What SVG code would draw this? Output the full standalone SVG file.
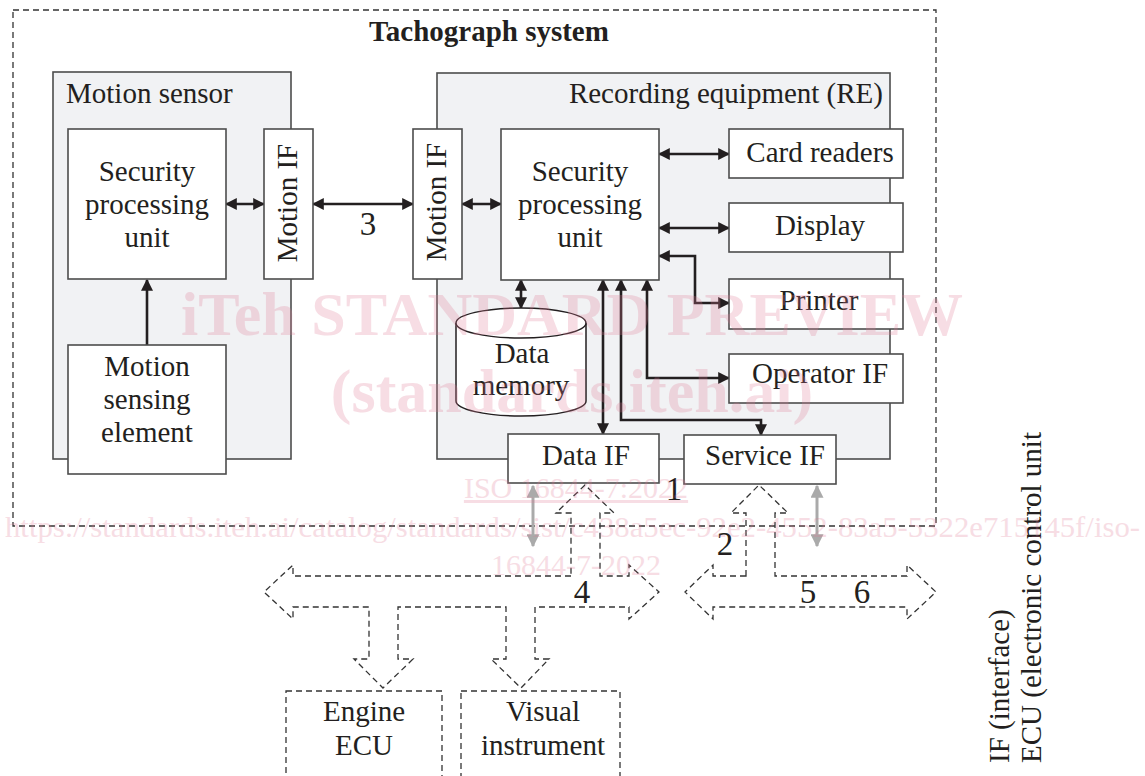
<svg xmlns="http://www.w3.org/2000/svg" width="1145" height="776" viewBox="0 0 1145 776">
<style>
text{font-family:"Liberation Serif","Times New Roman",serif;fill:#231f20;font-size:29px}
.c{text-anchor:middle}
.num{font-size:33px;text-anchor:middle}
.box{fill:#fff;stroke:#4d4d4d;stroke-width:1.6}
.grp{fill:#f1f2f4;stroke:#4d4d4d;stroke-width:1.6}
.dash{fill:none;stroke:#333;stroke-width:1.3;stroke-dasharray:6 4}
.dbox{fill:#fff;stroke:#333;stroke-width:1.3;stroke-dasharray:6 4}
.ar{fill:none;stroke:#231f20;stroke-width:2.6;marker-start:url(#ah);marker-end:url(#ah)}
.ar1{fill:none;stroke:#231f20;stroke-width:2.6;marker-end:url(#ah)}
.gar{fill:none;stroke:#aaa;stroke-width:3;marker-start:url(#gh);marker-end:url(#gh)}
.wm{fill:#e07a95;opacity:0.25}
</style>
<defs>
<marker id="ah" viewBox="0 0 10 10" refX="9" refY="5" markerWidth="12" markerHeight="12" markerUnits="userSpaceOnUse" orient="auto-start-reverse"><path d="M0,0 L10,5 L0,10 z" fill="#231f20"/></marker>
<marker id="gh" viewBox="0 0 10 10" refX="9" refY="5" markerWidth="13" markerHeight="13" markerUnits="userSpaceOnUse" orient="auto-start-reverse"><path d="M0,0 L10,5 L0,10 z" fill="#aaa"/></marker>
</defs>

<g id="tachograph-system">
<rect x="13" y="10" width="923" height="516" class="dash"/>
<text x="489" y="41" class="c" style="font-weight:bold;font-size:29px">Tachograph system</text>
</g>

<g id="motion-sensor">
<rect x="53" y="72" width="238" height="387" class="grp"/>
<text x="66" y="103">Motion sensor</text>
</g>

<g id="recording-equipment">
<rect x="437" y="73" width="453" height="386" class="grp"/>
<text x="883" y="103" style="text-anchor:end">Recording equipment (RE)</text>
</g>

<g id="connectors">
<line x1="226" y1="204" x2="264" y2="204" class="ar"/>
<line x1="147" y1="345" x2="147" y2="280" class="ar1"/>
<line x1="313" y1="204" x2="413" y2="204" class="ar"/>
<line x1="462" y1="204" x2="501" y2="204" class="ar"/>
<line x1="659" y1="154" x2="729" y2="154" class="ar"/>
<line x1="659" y1="228" x2="729" y2="228" class="ar"/>
<path d="M659,256 H695 V303 H729" class="ar"/>
<line x1="521" y1="280" x2="521" y2="308" class="ar"/>
<line x1="603" y1="280" x2="603" y2="434" class="ar"/>
<path d="M621,280 V420 H761 V435" class="ar"/>
<path d="M647,280 V378 H729" class="ar"/>
<line x1="533" y1="486" x2="533" y2="546" class="gar"/>
<line x1="817" y1="486" x2="817" y2="546" class="gar"/>
<path d="M571,576 H293 V565 L264,592 L293,619 V607 H369 V659 H354 L383,688 L413,659 H398 V607 H506 V659 H491 L521,688 L549,659 H535 V607 H629 V619 L659,592 L629,565 V576 H600 V513 H614 L585,485 L556,513 H571 Z" class="dash"/>
<path d="M746,576 H713 V565 L685,592 L713,619 V607 H907 V619 L936,592 L907,565 V576 H775 V513 H788 L759,485 L731,513 H746 Z" class="dash"/>
<text x="368" y="235" class="num">3</text>
<text x="674" y="500" class="num">1</text>
<text x="725" y="555" class="num">2</text>
<text x="582" y="603" class="num">4</text>
<text x="808" y="603" class="num">5</text>
<text x="862" y="603" class="num">6</text>
</g>

<g id="spu-sensor">
<rect x="68" y="129" width="158" height="150" class="box"/>
<text x="147" y="181" class="c">Security</text>
<text x="147" y="214" class="c">processing</text>
<text x="147" y="247" class="c">unit</text>
</g>

<g id="motion-sensing-element">
<rect x="68" y="345" width="158" height="129" class="box"/>
<text x="147" y="376" class="c">Motion</text>
<text x="147" y="409" class="c">sensing</text>
<text x="147" y="442" class="c">element</text>
</g>

<g id="motion-if-sensor">
<rect x="264" y="129" width="49" height="150" class="box"/>
<text transform="translate(297,203) rotate(-90)" class="c">Motion IF</text>
</g>

<g id="motion-if-re">
<rect x="413" y="129" width="49" height="150" class="box"/>
<text transform="translate(446,202) rotate(-90)" class="c">Motion IF</text>
</g>

<g id="spu-re">
<rect x="501" y="129" width="158" height="151" class="box"/>
<text x="580" y="181" class="c">Security</text>
<text x="580" y="214" class="c">processing</text>
<text x="580" y="247" class="c">unit</text>
</g>

<g id="card-readers">
<rect x="729" y="129" width="174" height="49" class="box"/>
<text x="820" y="162" class="c">Card readers</text>
</g>

<g id="display">
<rect x="729" y="203" width="174" height="49" class="box"/>
<text x="820" y="235" class="c">Display</text>
</g>

<g id="printer">
<rect x="729" y="279" width="174" height="50" class="box"/>
<text x="819" y="310" class="c">Printer</text>
</g>

<g id="operator-if">
<rect x="729" y="354" width="174" height="49" class="box"/>
<text x="820" y="383" class="c">Operator IF</text>
</g>

<g id="data-memory">
<path d="M456,323 V401 A65,15 0 0 0 586,401 V323" fill="#fff" stroke="#231f20" stroke-width="1.5"/>
<ellipse cx="521" cy="323" rx="65" ry="15" fill="#fff" stroke="#231f20" stroke-width="1.5"/>
<text x="522" y="363" class="c">Data</text>
<text x="521" y="395" class="c">memory</text>
</g>

<g id="data-if">
<rect x="508" y="434" width="151" height="49" class="box"/>
<text x="586" y="465" class="c">Data IF</text>
</g>

<g id="service-if">
<rect x="684" y="435" width="152" height="49" class="box"/>
<text x="765" y="465" class="c">Service IF</text>
</g>

<g id="engine-ecu">
<rect x="286" y="691" width="156" height="90" class="dbox"/>
<text x="364" y="721" class="c">Engine</text>
<text x="364" y="755" class="c">ECU</text>
</g>

<g id="visual-instrument">
<rect x="461" y="691" width="159" height="90" class="dbox"/>
<text x="543" y="721" class="c">Visual</text>
<text x="543" y="755" class="c">instrument</text>
</g>

<g id="legend">
<text transform="translate(1009,763) rotate(-90)">IF (interface)</text>
<text transform="translate(1041,763) rotate(-90)">ECU (electronic control unit</text>
</g>

<g id="watermark">
<text x="572" y="335" class="c wm" style="font-weight:bold;font-size:62px">iTeh STANDARD PREVIEW</text>
<text x="572" y="412" class="c wm" style="font-weight:bold;font-size:62px">(standards.iteh.ai)</text>
<text x="576" y="498" class="c wm" style="font-size:30px;text-decoration:underline">ISO 16844-7:2022</text>
<text x="5" y="537" class="wm" style="font-size:30px" textLength="1135" lengthAdjust="spacingAndGlyphs">https://standards.iteh.ai/catalog/standards/sist/c438a5ec-92e2-4552-83a5-5322e715145f/iso-</text>
<text x="576" y="575" class="c wm" style="font-size:30px">16844-7-2022</text>
</g>
</svg>
